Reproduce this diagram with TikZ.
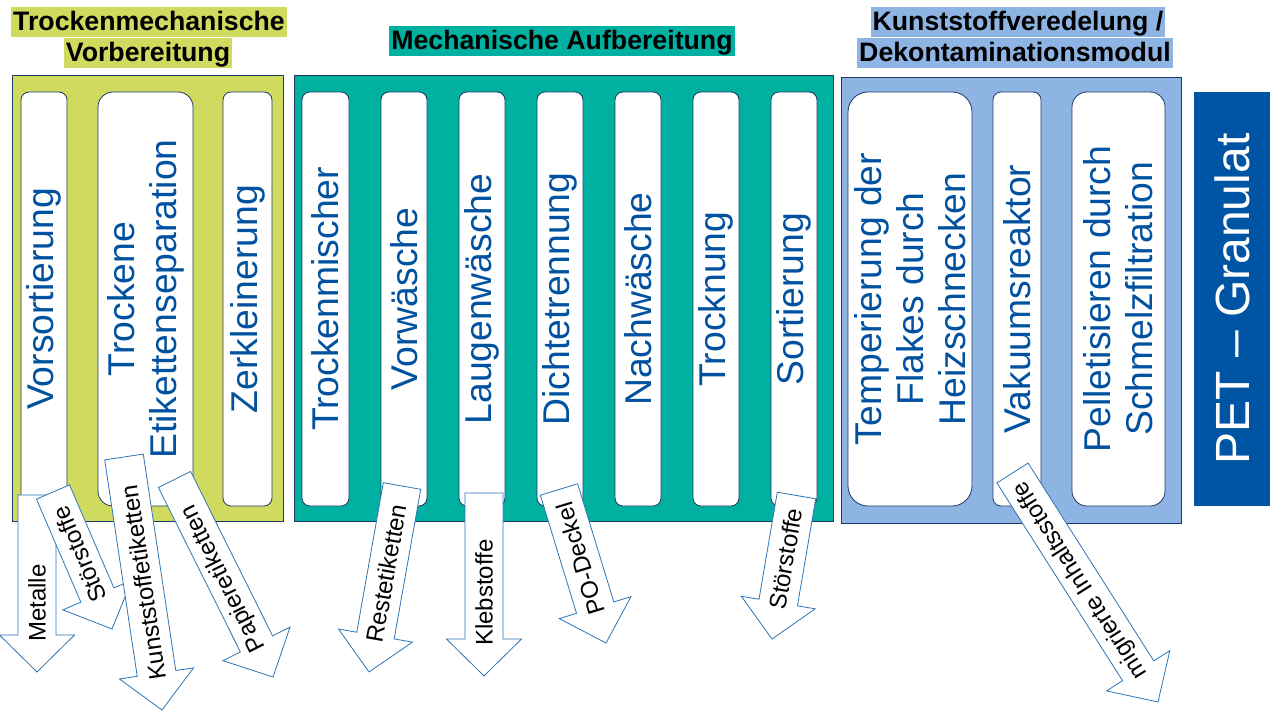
\documentclass[tikz,border=0pt]{standalone}
\usepackage{fontspec}
\setmainfont{Liberation Sans}
\usetikzlibrary{calc}
\definecolor{limeg}{RGB}{208,218,94}
\definecolor{tealg}{RGB}{0,176,160}
\definecolor{lblue}{RGB}{142,180,227}
\definecolor{petblue}{RGB}{0,84,164}
\definecolor{txtblue}{RGB}{0,82,160}
\definecolor{navy}{RGB}{31,56,100}
\definecolor{arrline}{RGB}{46,117,182}
\tikzset{
  panel/.style={draw=navy, line width=0.8pt, inner sep=0pt},
  stepbox/.style={draw=navy, line width=0.8pt, fill=white, rotate=90,
    minimum width=414pt, inner sep=0pt, font=\fontsize{37.3}{42}\selectfont,
    text=txtblue, align=center},
  hdr/.style={font=\bfseries\fontsize{26.7}{32}\selectfont, inner xsep=2pt,
    inner ysep=0pt, text height=24pt, text depth=6.5pt},
  blockarrow/.style={draw=arrline, line width=0.8pt, fill=white, line join=miter},
  arrlabel/.style={anchor=west, inner sep=0pt, font=\fontsize{24}{28}\selectfont},
}
\newcommand\outarrow[8]{%
  \coordinate (#1-t) at (#2,#3);
  \coordinate (#1-p) at (#4,#5);
  \coordinate (#1-h) at ($(#1-p)!37pt!(#1-t)$);
  \draw[blockarrow] ($(#1-t)!#6!90:(#1-p)$) -- ($(#1-h)!#6!90:(#1-p)$)
    -- ($(#1-h)!37.5pt!90:(#1-p)$) -- (#1-p) -- ($(#1-h)!37.5pt!-90:(#1-p)$)
    -- ($(#1-h)!#6!-90:(#1-p)$) -- ($(#1-t)!#6!-90:(#1-p)$) -- cycle;
  \node[arrlabel, rotate=#8] (#1) at ($(#1-p)!30pt!(#1-t)$) {#7};
}
\begin{document}
\begin{tikzpicture}[x=1pt, y=-1pt]
\useasboundingbox[fill=white] (0,0) rectangle (1280,720);

% headers
\node[hdr, fill=limeg] (h1a) at (149,22) {Trockenmechanische};
\node[hdr, fill=limeg] (h1b) at (148,53) {Vorbereitung};
\node[hdr, fill=tealg] (h2) at (562,41) {Mechanische Aufbereitung};
\node[hdr, fill=lblue] (h3a) at (1018,22) {Kunststoffveredelung /};
\node[hdr, fill=lblue] (h3b) at (1015,53) {Dekontaminationsmodul};

% panels
\node[panel, fill=limeg, minimum width=271pt, minimum height=446pt] (p1) at (147.5,298) {};
\node[panel, fill=tealg, minimum width=539pt, minimum height=446pt] (p2) at (563.5,298) {};
\node[panel, fill=lblue, minimum width=340pt, minimum height=446pt] (p3) at (1011,300) {};

% yellow boxes
\node[stepbox, minimum height=46pt, rounded corners=8pt] (b1) at (44,299) {Vorsortierung};
\node[stepbox, minimum height=95pt, rounded corners=15pt] (b2) at (145.5,299) {Trockene\\Etikettenseparation};
\node[stepbox, minimum height=49pt, rounded corners=8pt] (b3) at (247.5,299) {Zerkleinerung};

% teal boxes
\node[stepbox, minimum height=47pt, rounded corners=8pt] (m1) at (325.5,299) {Trockenmischer};
\node[stepbox, minimum height=46pt, rounded corners=8pt] (m2) at (404,299) {Vorwäsche};
\node[stepbox, minimum height=46pt, rounded corners=8pt] (m3) at (482,299) {Laugenwäsche};
\node[stepbox, minimum height=46pt, rounded corners=8pt] (m4) at (560,299) {Dichtetrennung};
\node[stepbox, minimum height=46pt, rounded corners=8pt] (m5) at (638,299) {Nachwäsche};
\node[stepbox, minimum height=46pt, rounded corners=8pt] (m6) at (716,299) {Trocknung};
\node[stepbox, minimum height=46pt, rounded corners=8pt] (m7) at (794,299) {Sortierung};

% blue boxes
\node[stepbox, minimum height=124pt, rounded corners=20pt] (k1) at (910,299) {Temperierung der\\Flakes durch\\Heizschnecken};
\node[stepbox, minimum height=48pt, rounded corners=8pt] (k2) at (1017,299) {Vakuumsreaktor};
\node[stepbox, minimum height=93pt, rounded corners=15pt] (k3) at (1118.5,299) {Pelletisieren durch\\Schmelzfiltration};

% PET
\node[fill=petblue, rotate=90, minimum width=414pt, minimum height=76pt, inner sep=0pt,
  text=white, font=\fontsize{48}{54}\selectfont] (pet) at (1232,299) {PET – Granulat};

% output arrows
\outarrow{a1}{37}{495}{37}{672}{19pt}{Metalle}{90}
\outarrow{a2}{53}{492}{112}{629}{18pt}{Störstoffe}{113.3}
\outarrow{a3}{124}{457}{162}{710}{19.5pt}{Kunststoffetiketten}{98.5}
\outarrow{a4}{174.5}{479.5}{273}{677}{18pt}{Papieretiketten}{116.5}
\outarrow{a5}{402}{486}{369}{672}{19pt}{Restetiketten}{79.9}
\outarrow{a6}{484}{493}{484}{676}{19pt}{Klebstoffe}{90}
\outarrow{a7}{559}{489.5}{606}{643}{19.5pt}{PO-Deckel}{107}
\outarrow{a8}{796.5}{495.5}{772}{639}{19.5pt}{Störstoffe}{80.3}
\outarrow{a9}{1012.5}{473}{1158}{702}{18.5pt}{migrierte Inhaltsstoffe}{122.4}
\end{tikzpicture}
\end{document}
